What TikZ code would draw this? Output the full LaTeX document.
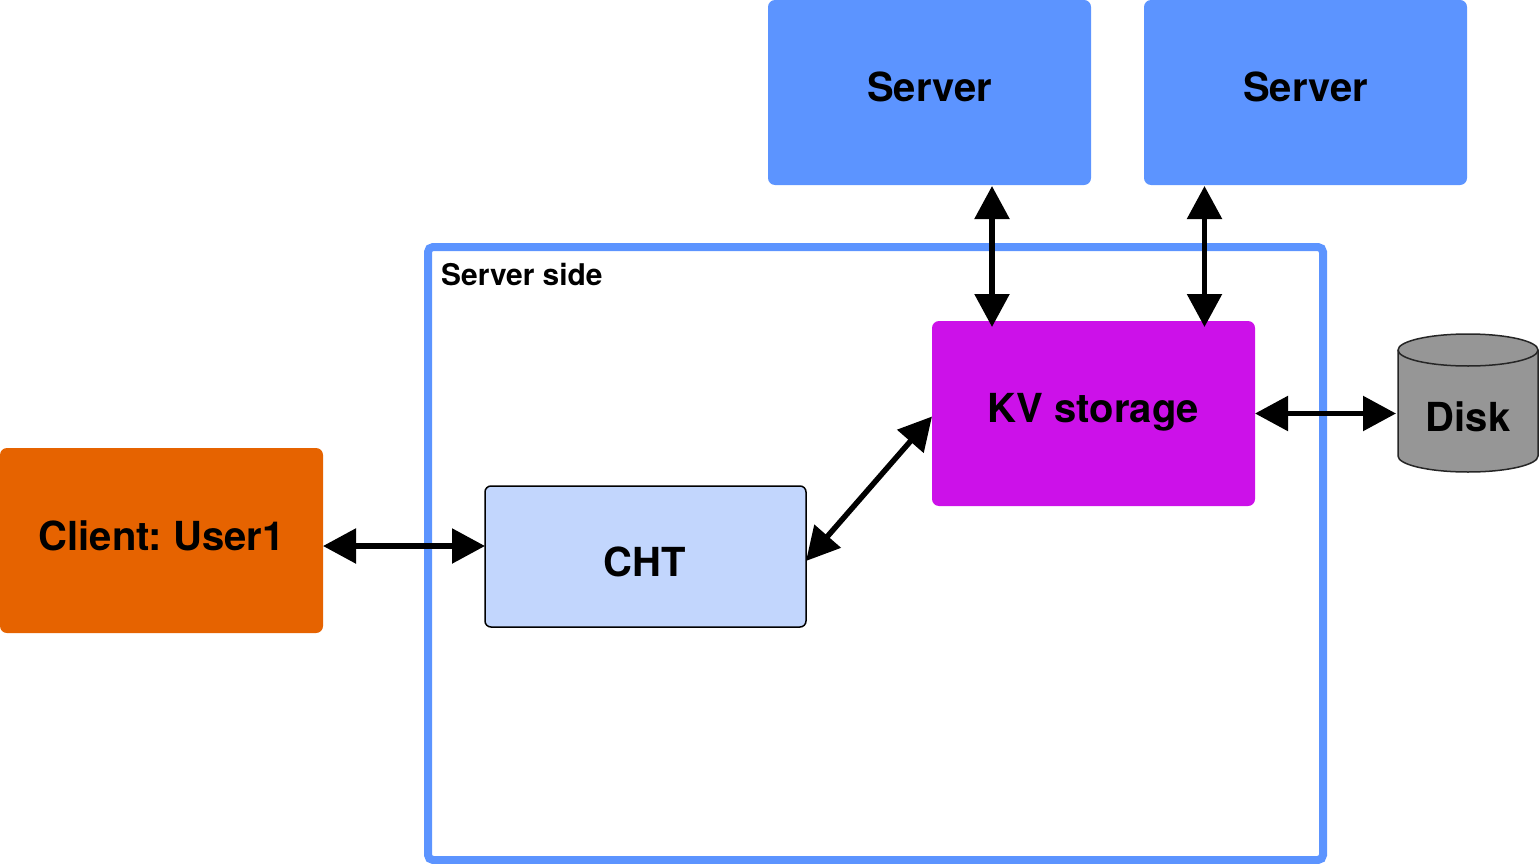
\documentclass[tikz,border=0pt]{standalone}
\usepackage{fontspec}
\setmainfont{TeX Gyre Heros}
\usetikzlibrary{arrows.meta}

\definecolor{serverblue}{HTML}{5C94FF}
\definecolor{clientorange}{HTML}{E66300}
\definecolor{chtblue}{HTML}{C2D6FD}
\definecolor{kvpurple}{HTML}{CC11E9}
\definecolor{diskgray}{HTML}{969696}

\begin{document}
\begin{tikzpicture}[x=1pt, y=-1pt]
\tikzstyle{boxnode}=[rectangle, rounded corners=7pt, inner sep=0pt, outer sep=0pt, minimum width=323pt, minimum height=185pt]
\tikzstyle{boxtext}=[font=\fontsize{40}{40}\selectfont\bfseries\frenchspacing, inner sep=0pt]
\tikzstyle{server node}=[boxnode, fill=serverblue]
\tikzstyle{disk line}=[draw=black!85, line width=1.5pt]
\tikzstyle{link}=[line width=5.5pt, {Triangle[length=33pt, width=34pt]}-{Triangle[length=33pt, width=34pt]}]

\useasboundingbox (0, 0) rectangle (1539, 864);

% Draw the frame first, the arrows pass over it
\node[rectangle, draw=serverblue, line width=8pt, rounded corners=5pt, outer sep=0pt, inner sep=0pt, minimum width=895pt, minimum height=613pt] (frame) at (875.5, 553.5) {};
\node[font=\fontsize{29.9}{30}\selectfont\bfseries, inner sep=0pt, anchor=west] (sidelabel) at (441, 275) {Server side};

\foreach \n/\x in {1/929.5, 2/1305.5}
    \node[server node, label={[boxtext, yshift=5.5pt]center:Server}] (server\n) at (\x, 92.5) {};

\node[boxnode, fill=clientorange, label={[boxtext, yshift=5pt]center:Client: User1}] (client) at (161.5, 540.5) {};
\node[boxnode, fill=kvpurple, label={[boxtext, yshift=1pt]center:KV storage}] (kv) at (1093.5, 413.5) {};
\node[boxnode, fill=chtblue, draw=black, line width=1.5pt, rounded corners=6pt, minimum width=321pt, minimum height=141pt, label={[boxtext, xshift=-1pt, yshift=-5.5pt]center:CHT}] (cht) at (645.5, 556.5) {};

% The disk, a box for its name and a cylinder round it
\node[inner sep=0pt, outer sep=0pt, minimum width=140pt, minimum height=138pt] (disk) at (1468, 403) {};
\path[disk line, fill=diskgray] ([yshift=-16pt]disk.north west) -- ([yshift=16pt]disk.south west) arc [start angle=180, end angle=360, x radius=70pt, y radius=16pt] -- ([yshift=-16pt]disk.north east) arc [start angle=0, end angle=180, x radius=70pt, y radius=16pt] -- cycle;
\draw[disk line] ([yshift=-16pt]disk.north west) arc [start angle=180, end angle=360, x radius=70pt, y radius=16pt];
\node[boxtext] (disktext) at ([yshift=-14pt]disk.center) {Disk};

% Connectors
\draw[link] ([yshift=-5.5pt]client.east) -- ([yshift=10.5pt]cht.west);
\draw[link] ([yshift=-4.5pt]cht.east) -- ([yshift=-3pt]kv.west);
\draw[link] (kv.east) -- ([xshift=-2pt]kv.east -| disk.west);
\draw[link] ([xshift=62.5pt, yshift=-1pt]server1.south) -- ([xshift=-101.5pt, yshift=-6pt]kv.north);
\draw[link] ([xshift=-101pt, yshift=-1pt]server2.south) -- ([xshift=111pt, yshift=-6pt]kv.north);
\end{tikzpicture}
\end{document}
